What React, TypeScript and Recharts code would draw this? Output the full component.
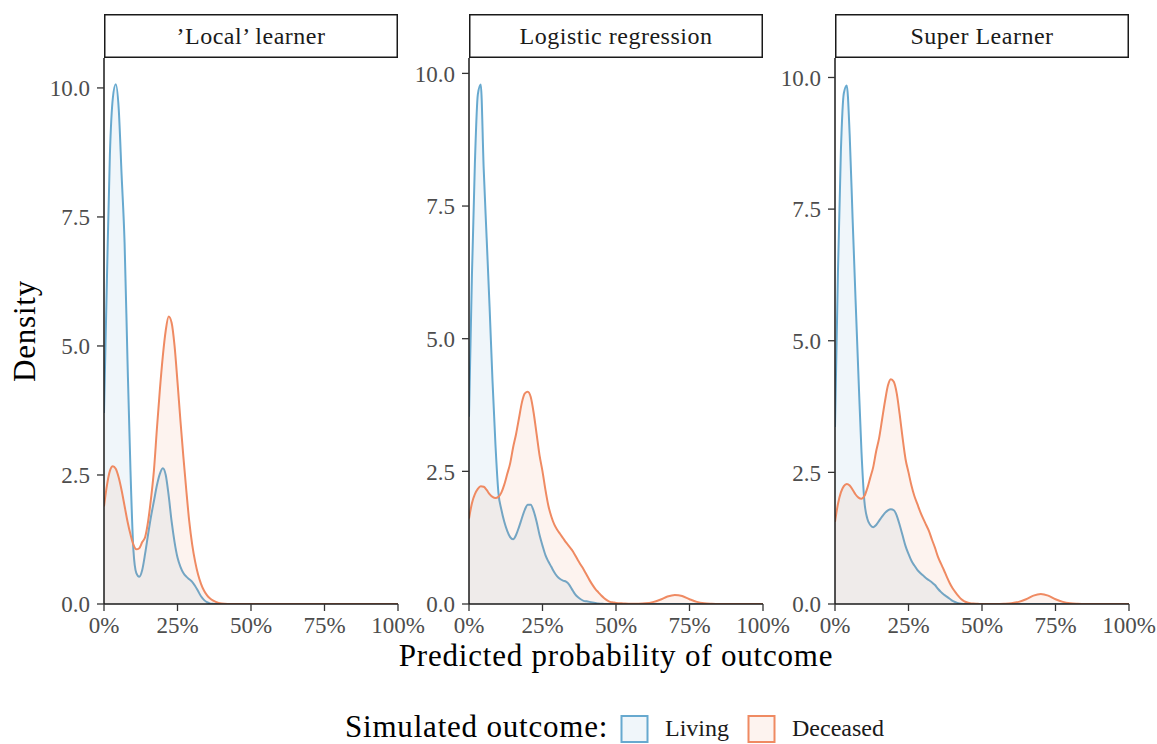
import React from 'react';
import { AreaChart, Area, XAxis, YAxis } from 'recharts';

// Predicted probability grid (percent)
const xGrid = [
  0, 1, 2, 3, 4, 5, 6, 7, 8, 9, 10, 11, 12, 13, 14, 15, 16, 17, 18, 19, 20,
  21, 22, 23, 24, 25, 26, 27, 28, 29, 30, 31, 32, 33, 34, 35, 36, 37, 38, 39, 40,
  41, 42, 43, 44, 45, 46, 47, 48, 49, 50,
  52.5, 55, 57.5, 60, 62.5, 65, 67.5, 70, 72.5, 75, 77.5, 80, 82.5, 85, 87.5, 90, 92.5, 95, 97.5, 100,
];

// 'Local' learner
const localLiving = [
  3.7, 6.3, 8.7, 9.8, 10.07, 9.6, 8.3, 7.0, 4.7, 2.6, 1.05, 0.6, 0.53, 0.66, 0.98, 1.35, 1.7, 2.0, 2.3, 2.52, 2.63,
  2.5, 2.1, 1.6, 1.2, 0.9, 0.72, 0.6, 0.53, 0.48, 0.43, 0.35, 0.25, 0.15, 0.08, 0.035, 0.012, 0.004, 0, 0, 0,
  0, 0, 0, 0, 0, 0, 0, 0, 0, 0,
  0, 0, 0, 0, 0, 0, 0, 0, 0, 0, 0, 0, 0, 0, 0, 0, 0, 0, 0, 0,
];
const localDeceased = [
  1.89, 2.3, 2.58, 2.67, 2.62, 2.45, 2.2, 1.9, 1.6, 1.35, 1.15, 1.06, 1.08, 1.2, 1.3, 1.6, 2.05, 2.6, 3.4, 4.15, 4.8,
  5.3, 5.57, 5.45, 5.0, 4.3, 3.55, 2.85, 2.2, 1.6, 1.15, 0.82, 0.57, 0.39, 0.26, 0.17, 0.11, 0.07, 0.04, 0.02, 0.01,
  0.005, 0.002, 0, 0, 0, 0, 0, 0, 0, 0,
  0, 0, 0, 0, 0, 0, 0, 0, 0, 0, 0, 0, 0, 0, 0, 0, 0, 0, 0, 0,
];

// Logistic regression
const logisticLiving = [
  3.53, 6.2, 8.3, 9.6, 9.79, 8.2, 6.9, 5.6, 4.2, 3.0, 2.1, 1.78, 1.55, 1.38, 1.26, 1.22, 1.3, 1.45, 1.62, 1.78, 1.87,
  1.87, 1.75, 1.55, 1.3, 1.1, 0.92, 0.8, 0.7, 0.6, 0.52, 0.47, 0.44, 0.42, 0.37, 0.28, 0.19, 0.13, 0.09, 0.06, 0.05,
  0.04, 0.03, 0.02, 0.01, 0.005, 0, 0, 0, 0, 0,
  0, 0, 0, 0, 0, 0, 0, 0, 0, 0, 0, 0, 0, 0, 0, 0, 0, 0, 0, 0,
];
const logisticDeceased = [
  1.61, 1.9, 2.07, 2.17, 2.22, 2.21, 2.15, 2.07, 2.02, 2.0, 2.02, 2.1, 2.25, 2.45, 2.65, 2.95, 3.2, 3.5, 3.8, 3.97, 4.0,
  3.9, 3.6, 3.2, 2.8, 2.5, 2.15, 1.85, 1.65, 1.5, 1.4, 1.32, 1.24, 1.16, 1.09, 1.02, 0.93, 0.83, 0.74, 0.65, 0.55,
  0.45, 0.36, 0.28, 0.22, 0.16, 0.11, 0.07, 0.04, 0.03, 0.02,
  0.01, 0.003, 0.005, 0.012, 0.035, 0.08, 0.14, 0.17, 0.15, 0.09, 0.04, 0.015, 0.005, 0, 0, 0, 0, 0, 0, 0,
];

// Super Learner
const superLiving = [
  3.36, 6.3, 8.6, 9.7, 9.85, 8.9, 7.3, 5.77, 4.3, 2.9, 1.95, 1.62, 1.5, 1.46, 1.5, 1.58, 1.66, 1.73, 1.78, 1.8, 1.78,
  1.68, 1.5, 1.3, 1.1, 0.95, 0.82, 0.73, 0.65, 0.59, 0.54, 0.49, 0.45, 0.41, 0.36, 0.29, 0.23, 0.18, 0.14, 0.1, 0.06,
  0.035, 0.015, 0.005, 0, 0, 0, 0, 0, 0, 0,
  0, 0, 0, 0, 0, 0, 0, 0, 0, 0, 0, 0, 0, 0, 0, 0, 0, 0, 0, 0,
];
const superDeceased = [
  1.56, 1.9, 2.12, 2.24, 2.28, 2.25, 2.17, 2.08, 2.02, 2.0, 2.05, 2.2, 2.4, 2.6, 2.9, 3.15, 3.5, 3.85, 4.15, 4.27, 4.22,
  4.0, 3.6, 3.15, 2.75, 2.5, 2.25, 2.05, 1.9, 1.75, 1.62, 1.5, 1.38, 1.22, 1.07, 0.9, 0.77, 0.65, 0.52, 0.4, 0.3,
  0.22, 0.15, 0.09, 0.05, 0.03, 0.015, 0.008, 0.004, 0.002, 0,
  0, 0, 0.005, 0.015, 0.04, 0.09, 0.16, 0.19, 0.16, 0.09, 0.04, 0.015, 0.005, 0, 0, 0, 0, 0, 0, 0,
];

const panelTitles = ['\u2019Local\u2019 learner', 'Logistic regression', 'Super Learner'];
const outcomeLabels = ['Living', 'Deceased'];
const legendTitle = 'Simulated outcome:';
const xTitle = 'Predicted probability of outcome';
const yTitle = 'Density';
const xTicks = [0, 25, 50, 75, 100];
const yTicks = [0, 2.5, 5, 7.5, 10];
const yMaxes = [10.58, 10.29, 10.37];

const LIVING = '#67a9cf';
const DECEASED = '#ef8a62';
const FONT = "'Liberation Serif', 'Times New Roman', serif";

const buildRows = (living: number[], deceased: number[]) =>
  xGrid.map((x, i) => ({ x, living: living[i], deceased: deceased[i] }));

const panelData = [
  buildRows(localLiving, localDeceased),
  buildRows(logisticLiving, logisticDeceased),
  buildRows(superLiving, superDeceased),
];

const PLOT_LEFTS = [104, 469, 835];
const PLOT_W = 294;
const PLOT_TOP = 58;
const PLOT_BOTTOM = 604;
const Y_AXIS_W = 50;
const M = { top: 10, right: 30, bottom: 10, left: 10 };
const X_AXIS_H = 30;

function Panel({ idx }: { idx: number }) {
  const plotLeft = PLOT_LEFTS[idx];
  const chartLeft = plotLeft - Y_AXIS_W - M.left;
  const chartTop = PLOT_TOP - M.top;
  const width = M.left + Y_AXIS_W + PLOT_W + M.right;
  const height = M.top + (PLOT_BOTTOM - PLOT_TOP) + X_AXIS_H + M.bottom;
  const tickStyle = { fill: '#4d4d4d', fontSize: 23, fontFamily: FONT };
  return (
    <div style={{ position: 'absolute', left: chartLeft, top: chartTop }}>
      <AreaChart width={width} height={height} data={panelData[idx]} margin={M}>
        <XAxis
          dataKey="x"
          type="number"
          domain={[0, 100]}
          ticks={xTicks}
          interval={0}
          allowDataOverflow
          tickFormatter={(v: number) => `${v}%`}
          height={X_AXIS_H}
          tickSize={7}
          tickMargin={6}
          axisLine={{ stroke: '#1a1a1a', strokeWidth: 1.5 }}
          tickLine={{ stroke: '#333333', strokeWidth: 1.3 }}
          tick={tickStyle}
        />
        <YAxis
          type="number"
          domain={[0, yMaxes[idx]]}
          ticks={yTicks}
          interval={0}
          allowDataOverflow
          tickFormatter={(v: number) => v.toFixed(1)}
          width={Y_AXIS_W}
          tickSize={7}
          tickMargin={7}
          axisLine={{ stroke: '#1a1a1a', strokeWidth: 1.5 }}
          tickLine={{ stroke: '#333333', strokeWidth: 1.3 }}
          tick={tickStyle}
        />
        <Area
          dataKey="living"
          type="monotone"
          stroke={LIVING}
          strokeWidth={2}
          fill={LIVING}
          fillOpacity={0.1}
          dot={false}
          activeDot={false}
          isAnimationActive={false}
        />
        <Area
          dataKey="deceased"
          type="monotone"
          stroke={DECEASED}
          strokeWidth={2}
          fill={DECEASED}
          fillOpacity={0.1}
          dot={false}
          activeDot={false}
          isAnimationActive={false}
        />
      </AreaChart>
    </div>
  );
}

export default function App() {
  return (
    <div
      style={{
        position: 'absolute',
        left: 0,
        top: 0,
        width: 1157,
        height: 744,
        background: '#ffffff',
        overflow: 'hidden',
      }}
    >
      {[0, 1, 2].map((i) => (
        <Panel key={i} idx={i} />
      ))}
      <svg
        width={1157}
        height={744}
        style={{ position: 'absolute', left: 0, top: 0, pointerEvents: 'none' }}
      >
        {PLOT_LEFTS.map((l, i) => (
          <g key={i}>
            <rect
              x={l + 0.75}
              y={14.75}
              width={PLOT_W - 1.5}
              height={42.5}
              fill="#ffffff"
              stroke="#1a1a1a"
              strokeWidth={1.5}
            />
            <text
              x={l + PLOT_W / 2}
              y={44}
              textAnchor="middle"
              fontFamily={FONT}
              fontSize={24}
              letterSpacing={0.5}
              fill="#1a1a1a"
            >
              {panelTitles[i]}
            </text>
          </g>
        ))}
        <text
          x={616}
          y={666}
          textAnchor="middle"
          fontFamily={FONT}
          fontSize={31}
          letterSpacing={0.8}
          fill="#000000"
        >
          {xTitle}
        </text>
        <text
          x={35}
          y={331}
          textAnchor="middle"
          transform="rotate(-90 35 331)"
          fontFamily={FONT}
          fontSize={31}
          letterSpacing={0.8}
          fill="#000000"
        >
          {yTitle}
        </text>
        <text x={345} y={737} fontFamily={FONT} fontSize={31} letterSpacing={0.8} fill="#000000">
          {legendTitle}
        </text>
        <rect x={621.5} y={716} width={26} height={26} fill={LIVING} fillOpacity={0.1} stroke={LIVING} strokeWidth={2} />
        <text x={665} y={736} fontFamily={FONT} fontSize={24} fill="#1a1a1a">
          {outcomeLabels[0]}
        </text>
        <rect x={748.5} y={716} width={26} height={26} fill={DECEASED} fillOpacity={0.1} stroke={DECEASED} strokeWidth={2} />
        <text x={792} y={736} fontFamily={FONT} fontSize={24} fill="#1a1a1a">
          {outcomeLabels[1]}
        </text>
      </svg>
    </div>
  );
}
